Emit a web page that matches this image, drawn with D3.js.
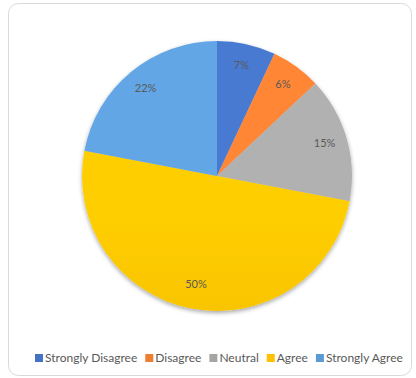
<!DOCTYPE html>
<html>
<head>
<meta charset="utf-8">
<script src="https://cdn.jsdelivr.net/npm/d3@7"></script>
<style>
  html, body { margin: 0; padding: 0; background: #fff; }
  svg { display: block; font-family: Lato, "Open Sans", "Noto Sans", sans-serif; }
</style>
</head>
<body>
<svg id="chart" width="416" height="378"></svg>
<script>
// Survey response shares (percent)
const categories = ["Strongly Disagree", "Disagree", "Neutral", "Agree", "Strongly Agree"];
const values = [7, 6, 15, 50, 22];
const colors = ["#4472C4", "#ED7D31", "#A5A5A5", "#FFC000", "#5B9BD5"];

const W = 416, H = 378;
const svg = d3.select("#chart");
const defs = svg.append("defs");

// chart frame
svg.append("rect")
  .attr("x", 8.5).attr("y", 3.5)
  .attr("width", 403).attr("height", 372)
  .attr("rx", 10).attr("ry", 10)
  .attr("fill", "#fff").attr("stroke", "#d9d9d9").attr("stroke-width", 1);

const cx = 217, cy = 176, R = 135;

// soft shadow under the pie
const shadow = defs.append("filter").attr("id", "shadow")
  .attr("x", "-20%").attr("y", "-20%").attr("width", "140%").attr("height", "140%");
shadow.append("feDropShadow")
  .attr("dx", 0).attr("dy", 2).attr("stdDeviation", 2)
  .attr("flood-color", "#000").attr("flood-opacity", 0.35);

// vertical shading per slice colour
colors.forEach((c, i) => {
  const g = defs.append("linearGradient").attr("id", "grad" + i)
    .attr("gradientUnits", "userSpaceOnUse")
    .attr("x1", 0).attr("y1", cy - R).attr("x2", 0).attr("y2", cy + R);
  g.append("stop").attr("offset", "0%").attr("stop-color", d3.color(c).brighter(0.2));
  g.append("stop").attr("offset", "100%").attr("stop-color", d3.color(c).darker(0.2));
});

const pie = d3.pie().sort(null).value(d => d)(values);
const arc = d3.arc().innerRadius(0).outerRadius(R);
const labelArc = d3.arc().innerRadius(R * 0.83).outerRadius(R * 0.83);

const g = svg.append("g").attr("transform", `translate(${cx},${cy})`);
g.append("g").attr("filter", "url(#shadow)")
  .selectAll("path").data(pie).join("path")
  .attr("d", arc)
  .attr("fill", (d, i) => `url(#grad${i})`);

g.selectAll("text").data(pie).join("text")
  .attr("transform", d => `translate(${labelArc.centroid(d)})`)
  .attr("text-anchor", "middle")
  .attr("dy", "0.2em")
  .attr("font-size", 11)
  .attr("fill", "#595959")
  .text(d => d.data + "%");

// legend
const legend = svg.append("g").attr("transform", "translate(0,358)");
let x = 35;
categories.forEach((name, i) => {
  const item = legend.append("g").attr("transform", `translate(${x},0)`);
  item.append("rect").attr("x", 0).attr("y", -4).attr("width", 8).attr("height", 8).attr("fill", colors[i]);
  const t = item.append("text").attr("x", 10).attr("y", 0).attr("dy", "0.35em")
    .attr("font-size", 12).attr("fill", "#595959").text(name);
  x += 10 + t.node().getComputedTextLength() + 8;
});
</script>
</body>
</html>
